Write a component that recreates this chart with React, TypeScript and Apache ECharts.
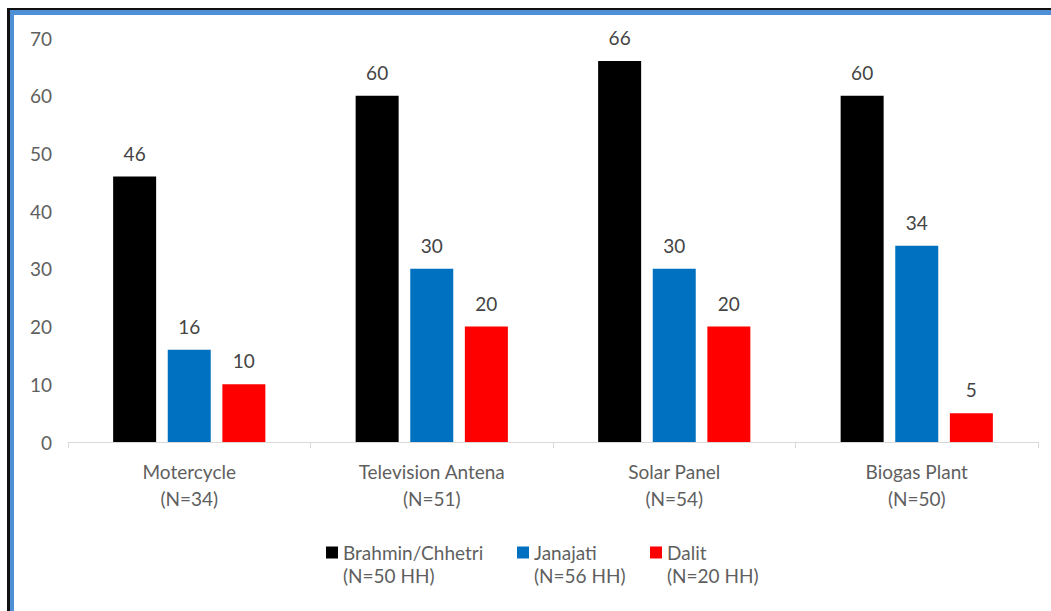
import React, { useEffect, useRef } from "react";
import * as echarts from "echarts";

const categories = ["Motercycle", "Television Antena", "Solar Panel", "Biogas Plant"];
const categoryN = ["(N=34)", "(N=51)", "(N=54)", "(N=50)"];
const seriesNames = ["Brahmin/Chhetri", "Janajati", "Dalit"];
const seriesN = ["(N=50 HH)", "(N=56 HH)", "(N=20 HH)"];
const brahmin = [46, 60, 66, 60];
const janajati = [16, 30, 30, 34];
const dalit = [10, 20, 20, 5];
const colors = ["#000000", "#0070c0", "#ff0000"];

const FONT = "Lato";
const TXT = "#5f5f5f";

export default function App() {
  const ref = useRef<HTMLDivElement>(null);
  useEffect(() => {
    if (!ref.current) return;
    const chart = echarts.init(ref.current, undefined, { renderer: "svg" });
    const values = [brahmin, janajati, dalit];
    const legendLeft = [326, 517, 650];
    const option: any = {
      animation: false,
      backgroundColor: "#ffffff",
      grid: { left: 68, right: 13, top: 38, bottom: 169 },
      xAxis: {
        type: "category",
        data: categories,
        axisLine: { lineStyle: { color: "#d9d9d9", width: 1 } },
        axisTick: { show: true, length: 6, lineStyle: { color: "#d9d9d9" } },
        axisLabel: {
          color: TXT,
          fontFamily: FONT,
          fontSize: 19,
          lineHeight: 27,
          margin: 16,
          formatter: (v: string) => {
            const i = categories.indexOf(v);
            return v + "\n" + categoryN[i];
          },
        },
      },
      yAxis: {
        type: "value",
        min: 0,
        max: 70,
        interval: 10,
        splitLine: { show: false },
        axisLine: { show: false },
        axisTick: { show: false },
        axisLabel: { color: TXT, fontFamily: FONT, fontSize: 19, margin: 16 },
      },
      legend: seriesNames.map((n, i) => ({
        data: [n],
        left: legendLeft[i],
        top: 543,
        padding: 0,
        itemWidth: 12,
        itemHeight: 12,
        icon: "rect",
        textStyle: { color: TXT, fontFamily: FONT, fontSize: 19 },
        selectedMode: false,
      })),
      series: seriesNames.map((n, i) => ({
        name: n,
        type: "bar",
        data: values[i],
        barWidth: 43,
        barGap: "27%",
        itemStyle: { color: colors[i] },
        label: {
          show: true,
          position: "top",
          distance: 14,
          color: "#444444",
          fontFamily: FONT,
          fontSize: 19,
        },
      })),
      graphic: [
        ...seriesN.map((t, i) => ({
          type: "text",
          left: legendLeft[i] + 17,
          top: 566,
          style: { text: t, fill: TXT, font: `19px ${FONT}` },
        })),
        { type: "rect", shape: { x: 7, y: 8, width: 1044, height: 2 }, style: { fill: "#111111" }, z: 100 },
        { type: "rect", shape: { x: 9, y: 10, width: 1042, height: 5 }, style: { fill: "#4f8fd6" }, z: 100 },
        { type: "rect", shape: { x: 7, y: 8, width: 3, height: 603 }, style: { fill: "#111111" }, z: 100 },
        { type: "rect", shape: { x: 10, y: 10, width: 4, height: 601 }, style: { fill: "#4f8fd6" }, z: 100 },
      ],
    };
    chart.setOption(option);
    return () => chart.dispose();
  }, []);
  return (
    <div
      ref={ref}
      style={{ position: "absolute", left: 0, top: 0, width: 1051, height: 611, background: "#fff" }}
    />
  );
}
